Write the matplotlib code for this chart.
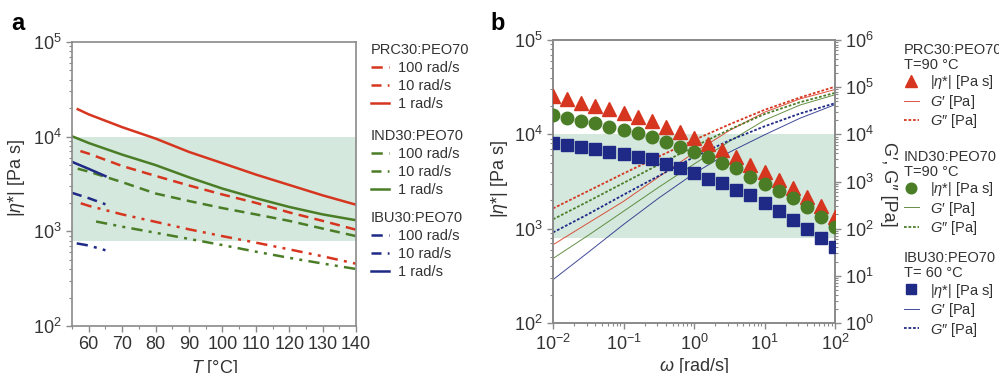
import numpy as np
import matplotlib
matplotlib.use("Agg")
import matplotlib.pyplot as plt
from matplotlib.ticker import MultipleLocator, LogLocator, NullFormatter
from matplotlib.patches import Rectangle
from matplotlib.transforms import blended_transform_factory

plt.rcParams['font.family'] = ['Liberation Sans', 'DejaVu Sans']
plt.rcParams['mathtext.fontset'] = 'custom'
plt.rcParams['mathtext.rm'] = 'Liberation Sans'
plt.rcParams['mathtext.it'] = 'Liberation Sans:italic'
plt.rcParams['mathtext.bf'] = 'Liberation Sans:bold'

# ---- panel a: complex viscosity vs temperature ----
T_prc1 = [56.7, 60, 70, 80, 90, 100, 110, 120, 130, 140]
eta_prc1 = [19500, 17200, 12600, 9550, 6900, 5250, 3980, 3090, 2400, 1910]
T_prc10 = [57.5, 60, 70, 80, 90, 100, 110, 120, 130, 140]
eta_prc10 = [7050, 6610, 4900, 3850, 3050, 2450, 2000, 1585, 1290, 1040]
T_prc100 = [57.6, 60, 70, 80, 90, 100, 110, 120, 130, 140]
eta_prc100 = [1980, 1860, 1510, 1260, 1050, 890, 760, 645, 545, 455]

T_ind1 = [55, 60, 70, 80, 90, 100, 110, 120, 130, 140]
eta_ind1 = [10100, 8570, 6460, 5010, 3720, 2830, 2240, 1810, 1510, 1310]
T_ind10 = [56.7, 60, 70, 80, 90, 100, 110, 120, 130, 140]
eta_ind10 = [4590, 4270, 3310, 2510, 2090, 1760, 1510, 1290, 1070, 890]
T_ind100 = [62.2, 70, 80, 90, 100, 110, 120, 130, 140]
eta_ind100 = [1270, 1120, 966, 832, 716, 610, 525, 457, 400]

T_ibu1 = [55, 60, 65]
eta_ibu1 = [5420, 4570, 3830]
T_ibu10 = [55, 60, 65]
eta_ibu10 = [2550, 2240, 1930]
T_ibu100 = [56.4, 60, 65]
eta_ibu100 = [746, 708, 631]

# ---- panel b: frequency sweeps ----
omega = [0.01, 0.0158, 0.0251, 0.0398, 0.0631, 0.1, 0.158, 0.251, 0.398, 0.631,
         1, 1.58, 2.51, 3.98, 6.31, 10, 15.8, 25.1, 39.8, 63.1, 100]
eta_prc = [25470, 23440, 21630, 19950, 18370, 16940, 15350, 13710, 12020, 10640,
           9040, 7870, 6810, 5690, 4750, 4010, 3270, 2710, 2170, 1730, 1330]
eta_ind = [16000, 14760, 13930, 13060, 12020, 11090, 10230, 9270, 8340, 7380,
           6530, 5690, 4990, 4350, 3550, 2970, 2500, 2090, 1680, 1330, 1045]
eta_ibu = [8000, 7690, 7380, 6970, 6530, 6170, 5780, 5420, 4800, 4420,
           3910, 3400, 3060, 2600, 2270, 1850, 1545, 1250, 1000, 805, 641]

omega_g = [0.01, 0.0316, 0.1, 0.316, 1, 3.16, 10, 31.6, 100]
g1_prc = [45.7, 132, 380, 1259, 4074, 12020, 29510, 56230, 89130]
g2_prc = [269, 631, 1479, 3388, 7586, 16220, 33110, 60260, 102300]
g1_ind = [23.4, 72.4, 234, 759, 2344, 7079, 19950, 41690, 69180]
g2_ind = [158, 380, 933, 2291, 5495, 12590, 26920, 47860, 75860]
g1_ibu = [8.3, 31.6, 123, 447, 1479, 4169, 9772, 21880, 42660]
g2_ibu = [83.2, 204, 525, 1318, 3311, 7413, 14790, 27540, 45710]

band = (800, 1e4)

RED = '#d6361f'
GREEN = '#4a7d26'
BLUE = '#1f2a86'
BAND = '#d4e8dd'
SPINE = '#8a8a8a'
TXT = '#333333'
dd = (0, (4.5, 2.5, 1.2, 2.5, 1.2, 2.5))

fig = plt.figure(figsize=(9.99, 3.73), dpi=100)
ax_a = fig.add_axes([0.0721, 0.126, 0.2843, 0.7614])
ax_b = fig.add_axes([0.5536, 0.134, 0.2823, 0.7587])


def style_axis(ax):
    for s in ax.spines.values():
        s.set_color(SPINE)
        s.set_linewidth(1.2)
    ax.tick_params(which='both', direction='out', colors=SPINE, labelcolor=TXT,
                   labelsize=13)
    ax.tick_params(which='major', length=4, width=1)
    ax.tick_params(which='minor', length=2.5, width=0.8)


# panel a
ax_a.axhspan(*band, color=BAND, lw=0, zorder=0)
lw = 1.8
a_lines = {}
a_lines['prc'] = [
    ax_a.plot(T_prc100, eta_prc100, color=RED, lw=lw, ls=dd)[0],
    ax_a.plot(T_prc10, eta_prc10, color=RED, lw=lw, ls=(0, (4, 2.5)))[0],
    ax_a.plot(T_prc1, eta_prc1, color=RED, lw=lw)[0]]
a_lines['ind'] = [
    ax_a.plot(T_ind100, eta_ind100, color=GREEN, lw=lw, ls=dd)[0],
    ax_a.plot(T_ind10, eta_ind10, color=GREEN, lw=lw, ls=(0, (4, 2.5)))[0],
    ax_a.plot(T_ind1, eta_ind1, color=GREEN, lw=lw)[0]]
a_lines['ibu'] = [
    ax_a.plot(T_ibu100, eta_ibu100, color=BLUE, lw=lw, ls=dd)[0],
    ax_a.plot(T_ibu10, eta_ibu10, color=BLUE, lw=lw, ls=(0, (4, 2.5)))[0],
    ax_a.plot(T_ibu1, eta_ibu1, color=BLUE, lw=lw)[0]]

ax_a.set_yscale('log')
ax_a.set_xlim(55, 140)
ax_a.set_ylim(1e2, 1e5)
ax_a.xaxis.set_minor_locator(MultipleLocator(5))
ax_a.set_xticks([60, 70, 80, 90, 100, 110, 120, 130, 140])
style_axis(ax_a)
ax_a.set_ylabel('|$\\eta$*| [Pa s]', fontsize=13, color=TXT)
ax_a.yaxis.set_label_coords(-0.158, 0.52)
ax_a.set_xlabel('$T$ [°C]', fontsize=13, color=TXT)
ax_a.xaxis.set_label_coords(0.503, -0.113)

rates = ['100 rad/s', '10 rad/s', '1 rad/s']
for key, title, ytop in [('prc', 'PRC30:PEO70', 0.885),
                         ('ind', 'IND30:PEO70', 0.655),
                         ('ibu', 'IBU30:PEO70', 0.435)]:
    leg = fig.legend(a_lines[key], rates, title=title, loc='upper left',
                     bbox_to_anchor=(0.371, ytop), bbox_transform=fig.transFigure,
                     frameon=False, fontsize=10.5, title_fontsize=10.5,
                     handlelength=1.25, handletextpad=0.65, labelspacing=0.28,
                     borderpad=0, borderaxespad=0, alignment='left')
    for t in leg.get_texts():
        t.set_color(TXT)
    leg.get_title().set_color(TXT)

# panel b
ax_g = ax_b.twinx()
ax_b.set_zorder(ax_g.get_zorder() + 1)
ax_b.patch.set_visible(False)
# shaded band in viscosity units, drawn on the back axes so lines sit on top
band_tr = blended_transform_factory(ax_b.transAxes, ax_b.transData)
ax_g.add_patch(Rectangle((0, band[0]), 1, band[1] - band[0], transform=band_tr,
                         facecolor=BAND, lw=0, zorder=0))

ms_prc = ax_b.plot(omega, eta_prc, ls='none', marker='^', ms=10, color=RED, zorder=3)[0]
ms_ind = ax_b.plot(omega, eta_ind, ls='none', marker='o', ms=9, color=GREEN, zorder=3)[0]
ms_ibu = ax_b.plot(omega, eta_ibu, ls='none', marker='s', ms=8.5, color=BLUE, zorder=3)[0]

gl = {}
for key, col, g1, g2 in [('prc', RED, g1_prc, g2_prc),
                         ('ind', GREEN, g1_ind, g2_ind),
                         ('ibu', BLUE, g1_ibu, g2_ibu)]:
    l1 = ax_g.plot(omega_g, g1, color=col, lw=0.7, alpha=0.85)[0]
    l2 = ax_g.plot(omega_g, g2, color=col, lw=1.3, ls=(0, (1.5, 1)))[0]
    gl[key] = (l1, l2)

ax_b.set_xscale('log')
ax_b.set_yscale('log')
ax_g.set_yscale('log')
ax_b.set_xlim(1e-2, 1e2)
ax_b.set_ylim(1e2, 1e5)
ax_g.set_ylim(1e0, 1e6)
ax_b.xaxis.set_major_locator(LogLocator(base=10, numticks=10))
ax_b.xaxis.set_minor_locator(LogLocator(base=10, subs=np.arange(2, 10), numticks=20))
ax_b.xaxis.set_minor_formatter(NullFormatter())
ax_g.yaxis.set_major_locator(LogLocator(base=10, numticks=10))
ax_g.yaxis.set_minor_locator(LogLocator(base=10, subs=np.arange(2, 10), numticks=20))
ax_g.yaxis.set_minor_formatter(NullFormatter())
style_axis(ax_b)
style_axis(ax_g)
ax_b.set_ylabel('|$\\eta$*| [Pa s]', fontsize=13, color=TXT)
ax_b.yaxis.set_label_coords(-0.152, 0.51)
ax_b.set_xlabel('$\\omega$ [rad/s]', fontsize=13, color=TXT)
ax_b.xaxis.set_label_coords(0.50, -0.117)
ax_g.set_ylabel('G′, G″ [Pa]', fontsize=13, color=TXT, rotation=270)
ax_g.yaxis.set_label_coords(1.22, 0.49)

labels_b = ['|$\\eta$*| [Pa s]', '$G\u2032$ [Pa]', '$G\u2033$ [Pa]']
for key, mk, title, ytop in [('prc', ms_prc, 'PRC30:PEO70\nT=90 °C', 0.885),
                             ('ind', ms_ind, 'IND30:PEO70\nT=90 °C', 0.599),
                             ('ibu', ms_ibu, 'IBU30:PEO70\nT= 60 °C', 0.327)]:
    leg = fig.legend([mk, gl[key][0], gl[key][1]], labels_b, title=title,
                     loc='upper left', bbox_to_anchor=(0.905, ytop),
                     bbox_transform=fig.transFigure, frameon=False,
                     fontsize=10.5, title_fontsize=10.5, handlelength=1.0,
                     handletextpad=0.8, labelspacing=0.1, borderpad=0,
                     borderaxespad=0, alignment='left', markerscale=0.85)
    leg.get_title().set_multialignment('left')
    leg.get_title().set_linespacing(1.1)
    leg.get_title().set_color(TXT)
    for t in leg.get_texts():
        t.set_color(TXT)

fig.text(0.018, 0.938, 'a', fontsize=17, fontweight='bold', ha='center', va='center')
fig.text(0.4985, 0.938, 'b', fontsize=17, fontweight='bold', ha='center', va='center')

fig.savefig('out.png', dpi=100)
